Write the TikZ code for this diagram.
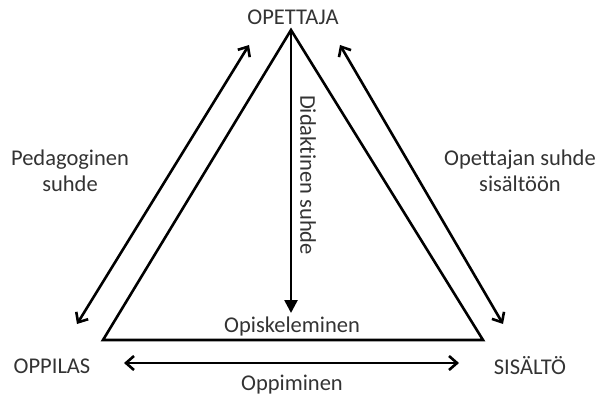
\documentclass[tikz,border=0pt]{standalone}
\usepackage{fontspec}
\setmainfont[Ligatures=NoCommon]{Carlito}
\usetikzlibrary{arrows.meta}
\begin{document}
\begin{tikzpicture}[x=1pt,y=-1pt,
  lbl/.style={font=\fontsize{22.5}{26}\selectfont, text=black!80, align=center, inner sep=0pt},
  edge/.style={line width=2.6pt, line join=miter},
  rel/.style={line width=2.6pt, {Straight Barb[length=8pt,width=14pt,line width=2.6pt]}-{Straight Barb[length=8pt,width=14pt,line width=2.6pt]}},
  down/.style={line width=2.6pt, -{Triangle[length=13pt,width=13pt]}}]
  \useasboundingbox (0,0) rectangle (597,401);
  % triangle corners
  \coordinate (T) at (291,30);
  \coordinate (L) at (103,340);
  \coordinate (R) at (483,340);
  \draw[edge] (T) -- (L) -- (R) -- cycle;
  % corner labels
  \node[lbl] (opettaja) at (293,17) {OPETTAJA};
  \node[lbl] (oppilas) at (52,366) {OPPILAS};
  \node[lbl] (sisalto) at (530,366) {SISÄLTÖ};
  % relation arrows
  \coordinate (la) at (249,45);
  \coordinate (lb) at (77,324);
  \coordinate (ra) at (340,45);
  \coordinate (rb) at (503,324);
  \coordinate (ba) at (124,363);
  \coordinate (bb) at (459,363);
  \coordinate (vt) at (291,313);
  \draw[rel] (la) -- (lb);
  \draw[rel] (ra) -- (rb);
  \draw[rel] (ba) -- (bb);
  \draw[down] (T) -- (vt);
  % relation labels
  \node[lbl] (ped) at (70,171) {Pedagoginen\\suhde};
  \node[lbl] (ops) at (520,171) {Opettajan suhde\\sisältöön};
  \node[lbl, rotate=-90] (did) at (308,175) {Didaktinen suhde};
  \node[lbl] (opisk) at (292,326) {Opiskeleminen};
  \node[lbl] (oppim) at (292,385) {Oppiminen};
\end{tikzpicture}
\end{document}
